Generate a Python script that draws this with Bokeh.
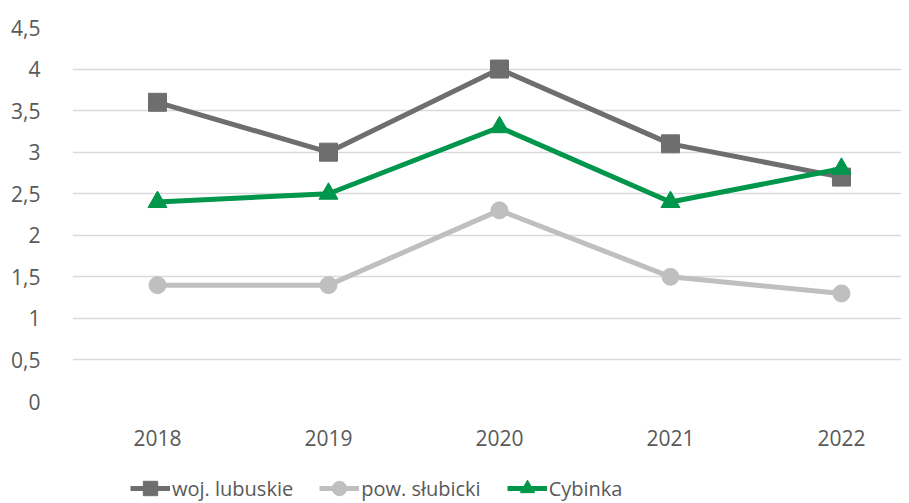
from bokeh.plotting import figure
from bokeh.models import FixedTicker, Legend, LegendItem, Range1d, ColumnDataSource
from bokeh.layouts import column
from bokeh.embed import file_html
from bokeh.resources import INLINE

years = [2018, 2019, 2020, 2021, 2022]
year_labels = ["2018", "2019", "2020", "2021", "2022"]
woj_lubuskie = [3.6, 3.0, 4.0, 3.1, 2.7]
pow_slubicki = [1.4, 1.4, 2.3, 1.5, 1.3]
cybinka = [2.4, 2.5, 3.3, 2.4, 2.8]
y_ticks = [0, 0.5, 1, 1.5, 2, 2.5, 3, 3.5, 4, 4.5]
y_tick_labels = ["0", "0,5", "1", "1,5", "2", "2,5", "3", "3,5", "4", "4,5"]
series_names = ["woj. lubuskie", "pow. słubicki", "Cybinka"]

FONT = "Open Sans"
TXT = "#595959"
c1, c2, c3 = "#6e6e6e", "#bfbfbf", "#00964b"

p = figure(width=901, height=455, output_backend="svg", toolbar_location=None,
           x_range=Range1d(2017.503, 2022.351), y_range=Range1d(0, 4.5),
           min_border_left=72, min_border_right=0, min_border_top=27, min_border_bottom=54)
p.outline_line_color = None

p.xgrid.grid_line_color = None
p.ygrid.grid_line_color = "#d9d9d9"
p.ygrid.grid_line_width = 1.5

p.xaxis.ticker = FixedTicker(ticks=years)
p.xaxis.major_label_overrides = {y: l for y, l in zip(years, year_labels)}
p.yaxis.ticker = FixedTicker(ticks=y_ticks)
p.yaxis.major_label_overrides = {t: l for t, l in zip(y_ticks, y_tick_labels)}
for ax in (p.xaxis, p.yaxis):
    ax.axis_line_color = None
    ax.major_tick_line_color = None
    ax.minor_tick_line_color = None
    ax.major_label_text_font = FONT
    ax.major_label_text_font_size = "21px"
    ax.major_label_text_color = TXT
p.xaxis.major_label_standoff = 22
p.yaxis.major_label_standoff = 26

p.line(years, woj_lubuskie, line_color=c1, line_width=5)
p.scatter(years, woj_lubuskie, marker="square", size=18, fill_color=c1, line_color=c1)
p.line(years, pow_slubicki, line_color=c2, line_width=5)
p.scatter(years, pow_slubicki, marker="circle", size=17, fill_color=c2, line_color=c2)
p.line(years, cybinka, line_color=c3, line_width=5)
p.scatter(years, cybinka, marker="triangle", size=19, fill_color=c3, line_color=c3)

# legend strip: same styles, sources placed outside the visible range
lg = figure(width=901, height=48, output_backend="svg", toolbar_location=None,
            x_axis_location=None, y_axis_location=None,
            x_range=Range1d(0, 1), y_range=Range1d(0, 1),
            min_border=0)
lg.outline_line_color = None
lg.grid.grid_line_color = None
offscreen = ColumnDataSource(data=dict(x=[-10, -9], y=[-10, -10]))
r = []
for col, mk, sz in [(c1, "square", 17), (c2, "circle", 17), (c3, "triangle", 19)]:
    ln = lg.line("x", "y", source=offscreen, line_color=col, line_width=5)
    sc = lg.scatter("x", "y", source=offscreen, marker=mk, size=sz, fill_color=col, line_color=col)
    r.append([ln, sc])

legend = Legend(items=[LegendItem(label=n, renderers=rr) for n, rr in zip(series_names, r)],
                orientation="horizontal", location=(58, -3))
legend.border_line_color = None
legend.background_fill_alpha = 0
legend.padding = 0
legend.margin = 0
legend.spacing = 26
legend.glyph_width = 40
legend.glyph_height = 36
legend.label_standoff = 2
legend.label_text_font = FONT
legend.label_text_font_size = "20px"
legend.label_text_color = TXT
lg.add_layout(legend, "center")

layout = column(p, lg, spacing=0)
open("out.html", "w").write(file_html(layout, INLINE))
